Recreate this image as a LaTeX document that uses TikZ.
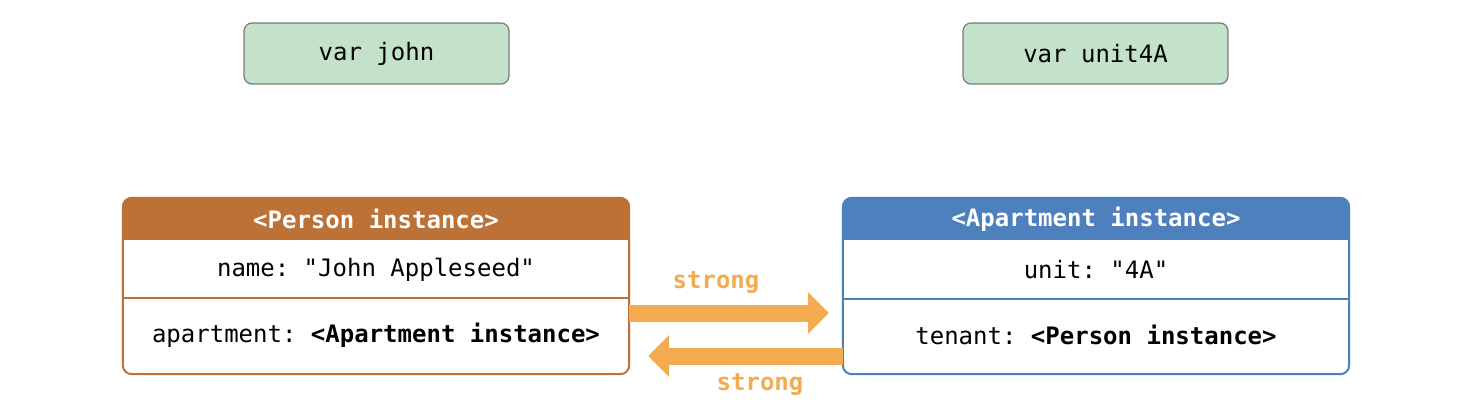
\documentclass[tikz,border=0pt]{standalone}
\usepackage{fontspec}
\setmonofont{DejaVu Sans Mono}
\renewcommand\familydefault{\ttdefault}
\usetikzlibrary{arrows.meta,calc}
\definecolor{brownc}{HTML}{BC7137}
\definecolor{bluec}{HTML}{4E80BD}
\definecolor{greenf}{HTML}{C4E1CA}
\definecolor{grayb}{HTML}{7A7A7A}
\definecolor{orangec}{HTML}{F4AA4E}
\frenchspacing
\begin{document}
\ttfamily\frenchspacing
\begin{tikzpicture}[x=1pt,y=-1pt,
  txt/.style={font=\ttfamily\fontsize{24}{26}\selectfont, inner sep=0pt, anchor=center},
  varbox/.style={draw=grayb, fill=greenf, line width=1.2pt, rounded corners=8pt,
     minimum width=265pt, minimum height=61pt, inner sep=0pt, font=\ttfamily\fontsize{24}{26}\selectfont},
  objbox/.style={minimum width=506pt, minimum height=176pt, inner sep=0pt},
  strongarrow/.style={orangec, line width=17pt, -{Triangle[length=21pt,width=41pt]}},
  lbl/.style={text=orangec, font=\ttfamily\fontsize{24}{26}\selectfont\bfseries, inner sep=0pt}]
\useasboundingbox (0,0) rectangle (1472,414);

\node[varbox] (john) at (376.5,53.5) {var john};
\node[varbox] (unit) at (1095.5,53.5) {var unit4A};

% Person instance
\node[objbox] (person) at (376,286) {};
\fill[brownc] ([yshift=-42pt]person.north west) {[rounded corners=9pt] -- (person.north west) -- (person.north east)} -- ([yshift=-42pt]person.north east) -- cycle;
\draw[brownc, line width=2pt, rounded corners=9pt] (person.north west) rectangle (person.south east);
\draw[brownc, line width=1.2pt] (person.west |- 0,298) -- (person.east |- 0,298);
\node[txt, text=white, font=\ttfamily\fontsize{24}{26}\selectfont\bfseries] (ptitle) at (376,219) {<Person instance>};
\node[txt] (pname) at (376,270) {name: "John Appleseed"};
\node[txt] (papt) at (376,335) {apartment: \textbf{<Apartment instance>}};

% Apartment instance
\node[objbox] (apt) at (1096,286) {};
\fill[bluec] ([yshift=-42pt]apt.north west) {[rounded corners=9pt] -- (apt.north west) -- (apt.north east)} -- ([yshift=-42pt]apt.north east) -- cycle;
\draw[bluec, line width=2pt, rounded corners=9pt] (apt.north west) rectangle (apt.south east);
\draw[bluec, line width=1.2pt] (apt.west |- 0,299) -- (apt.east |- 0,299);
\node[txt, text=white, font=\ttfamily\fontsize{24}{26}\selectfont\bfseries] (atitle) at (1096,219) {<Apartment instance>};
\node[txt] (aunit) at (1096,270) {unit: "4A"};
\node[txt] (aten) at (1096,335) {tenant: \textbf{<Person instance>}};

% arrows
\draw[strongarrow, shorten >=14pt] (person.east |- 0,313) -- (apt.west |- 0,313);
\draw[strongarrow, shorten >=19pt] (apt.west |- 0,356) -- (person.east |- 0,356);
\node[lbl] (s1) at (716,283) {strong};
\node[lbl] (s2) at (760,385) {strong};
\end{tikzpicture}
\end{document}
